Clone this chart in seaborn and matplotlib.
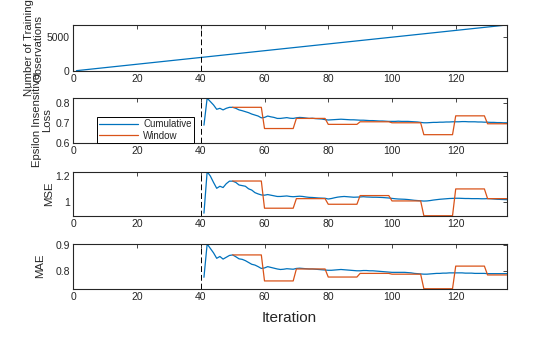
import numpy as np
import pandas as pd
import matplotlib
matplotlib.use("Agg")
import matplotlib.pyplot as plt
import seaborn as sns

# ---------------- data ----------------
obs_iter = [1, 136]
obs_count = [50, 6800]

cum_iter = list(range(41, 137))
win_iter = list(range(50, 137))

loss_cum = [
    0.688, 0.824, 0.807, 0.790, 0.768, 0.773, 0.765, 0.773, 0.778, 0.778,
    0.773, 0.765, 0.761, 0.756, 0.751, 0.744, 0.739, 0.734, 0.725, 0.727,
    0.734, 0.730, 0.727, 0.722, 0.722, 0.724, 0.726, 0.723, 0.722, 0.725,
    0.727, 0.726, 0.724, 0.722, 0.723, 0.721, 0.720, 0.719, 0.716, 0.714,
    0.715, 0.716, 0.717, 0.718, 0.717, 0.716, 0.715, 0.715, 0.714, 0.713,
    0.713, 0.712, 0.711, 0.711, 0.710, 0.709, 0.709, 0.708, 0.707, 0.707,
    0.707, 0.708, 0.707, 0.707, 0.707, 0.706, 0.705, 0.704, 0.702, 0.700,
    0.700, 0.701, 0.702, 0.702, 0.703, 0.703, 0.704, 0.704, 0.705, 0.705,
    0.705, 0.706, 0.706, 0.705, 0.705, 0.705, 0.704, 0.704, 0.703, 0.703,
    0.702, 0.702, 0.701, 0.701, 0.700, 0.700,
]
loss_win = (
    [0.778] * 10 + [0.671] * 10 + [0.722] * 10 + [0.692] * 10 + [0.705] * 10
    + [0.700] * 10 + [0.640] * 10 + [0.735] * 10 + [0.695] * 7
)

mse_cum = [
    0.909, 1.234, 1.200, 1.150, 1.104, 1.120, 1.110, 1.140, 1.160, 1.160,
    1.150, 1.130, 1.125, 1.120, 1.100, 1.090, 1.070, 1.060, 1.052, 1.050,
    1.055, 1.050, 1.045, 1.040, 1.040, 1.042, 1.044, 1.040, 1.038, 1.040,
    1.042, 1.040, 1.036, 1.033, 1.032, 1.030, 1.028, 1.027, 1.026, 1.020,
    1.024, 1.030, 1.035, 1.038, 1.040, 1.038, 1.036, 1.034, 1.035, 1.036,
    1.038, 1.036, 1.035, 1.034, 1.034, 1.033, 1.032, 1.030, 1.028, 1.025,
    1.022, 1.020, 1.019, 1.018, 1.016, 1.013, 1.010, 1.008, 1.006, 1.004,
    1.005, 1.008, 1.012, 1.015, 1.018, 1.020, 1.022, 1.024, 1.025, 1.026,
    1.026, 1.025, 1.024, 1.024, 1.023, 1.023, 1.023, 1.022, 1.022, 1.023,
    1.022, 1.020, 1.018, 1.017, 1.016, 1.015,
]
mse_win = (
    [1.161] * 10 + [0.948] * 10 + [1.023] * 10 + [0.979] * 10 + [1.047] * 10
    + [1.005] * 10 + [0.889] * 10 + [1.099] * 10 + [1.023] * 7
)

mae_cum = [
    0.776, 0.904, 0.887, 0.870, 0.849, 0.856, 0.846, 0.853, 0.860, 0.862,
    0.855, 0.847, 0.845, 0.840, 0.833, 0.826, 0.823, 0.817, 0.810, 0.812,
    0.817, 0.814, 0.811, 0.808, 0.806, 0.807, 0.809, 0.808, 0.807, 0.810,
    0.811, 0.810, 0.809, 0.808, 0.808, 0.807, 0.806, 0.805, 0.804, 0.803,
    0.803, 0.804, 0.805, 0.806, 0.805, 0.804, 0.803, 0.802, 0.801, 0.801,
    0.802, 0.802, 0.801, 0.801, 0.800, 0.799, 0.798, 0.797, 0.796, 0.795,
    0.795, 0.795, 0.795, 0.795, 0.794, 0.793, 0.791, 0.790, 0.789, 0.788,
    0.788, 0.789, 0.790, 0.791, 0.791, 0.792, 0.792, 0.793, 0.793, 0.793,
    0.793, 0.793, 0.792, 0.792, 0.792, 0.791, 0.791, 0.791, 0.791, 0.790,
    0.790, 0.790, 0.790, 0.790, 0.790, 0.790,
]
mae_win = (
    [0.862] * 10 + [0.762] * 10 + [0.808] * 10 + [0.777] * 10 + [0.791] * 10
    + [0.788] * 10 + [0.732] * 10 + [0.819] * 10 + [0.785] * 7
)

warmup_iter = 40
x_ticks = [0, 20, 40, 60, 80, 100, 120]
y_labels = ["Number of Training\nObservations", "Epsilon Insensitive\nLoss", "MSE", "MAE"]
y_ticks = [[0, 5000], [0.6, 0.7, 0.8], [1, 1.2], [0.8, 0.9]]
y_ticklabels = [["0", "5000"], ["0.6", "0.7", "0.8"], ["1", "1.2"], ["0.8", "0.9"]]
y_limits = [(0, 6800), (0.598, 0.825), (0.887, 1.234), (0.731, 0.904)]
legend_labels = ["Cumulative", "Window"]

# ---------------- style ----------------
sns.set_style("white")
plt.rcParams["font.family"] = ["Liberation Sans", "DejaVu Sans"]

BLUE = "#0072BD"
ORANGE = "#D95319"
AXC = "#262626"

W, H = 560, 337
fig = plt.figure(figsize=(W / 100, H / 100), dpi=100)

left_px, right_px = 73.3, 506.7
panels_px = [(25, 71), (98, 143), (171.7, 216), (244, 289)]
axes = []
for top, bot in panels_px:
    ax = fig.add_axes([left_px / W, 1 - bot / H, (right_px - left_px) / W, (bot - top) / H])
    axes.append(ax)

# panel 1
sns.lineplot(x=obs_iter, y=obs_count, ax=axes[0], color=BLUE, linewidth=0.9)

# metric panels
for ax, cum, win in zip(axes[1:], [loss_cum, mse_cum, mae_cum], [loss_win, mse_win, mae_win]):
    sns.lineplot(x=cum_iter, y=cum, ax=ax, color=BLUE, linewidth=0.9, label=legend_labels[0])
    sns.lineplot(x=win_iter, y=win, ax=ax, color=ORANGE, linewidth=0.9, label=legend_labels[1])

for i, ax in enumerate(axes):
    ax.axvline(warmup_iter, color="black", linestyle=(0, (6, 3)), linewidth=0.7)
    ax.set_xlim(0, 136)
    ax.set_ylim(*y_limits[i])
    ax.set_xticks(x_ticks)
    ax.set_xticklabels([str(t) for t in x_ticks])
    ax.set_yticks(y_ticks[i])
    ax.set_yticklabels(y_ticklabels[i])
    ax.tick_params(direction="in", length=3, width=0.6, colors=AXC, labelsize=7.5,
                   top=True, right=True, pad=2.5)
    for s in ax.spines.values():
        s.set_visible(True)
        s.set_color(AXC)
        s.set_linewidth(0.8)
    ax.set_xlabel("")
    ax.set_ylabel("")
    if i != 1 and ax.get_legend() is not None:
        ax.get_legend().remove()

leg = axes[1].legend(loc="lower left", bbox_to_anchor=((97 - left_px) / (right_px - left_px), 0),
                     borderaxespad=0, fontsize=7, frameon=True, fancybox=False,
                     edgecolor="black", framealpha=1, borderpad=0.25, labelspacing=0.15,
                     handlelength=4.0, handletextpad=0.5)
leg.get_frame().set_linewidth(0.7)

# y labels (placed by pixel centers)
label_pos = [(34, 48), (42, 120), (49, 194), (40, 266)]
for (px, py), lab in zip(label_pos, y_labels):
    fig.text(px / W, 1 - py / H, lab, rotation=90, ha="center", va="center",
             fontsize=8.2, color=AXC, linespacing=0.95)

fig.text((289) / W, 1 - 318 / H, "Iteration", ha="center", va="center", fontsize=11, color=AXC)

fig.savefig("out.png", dpi=100)
